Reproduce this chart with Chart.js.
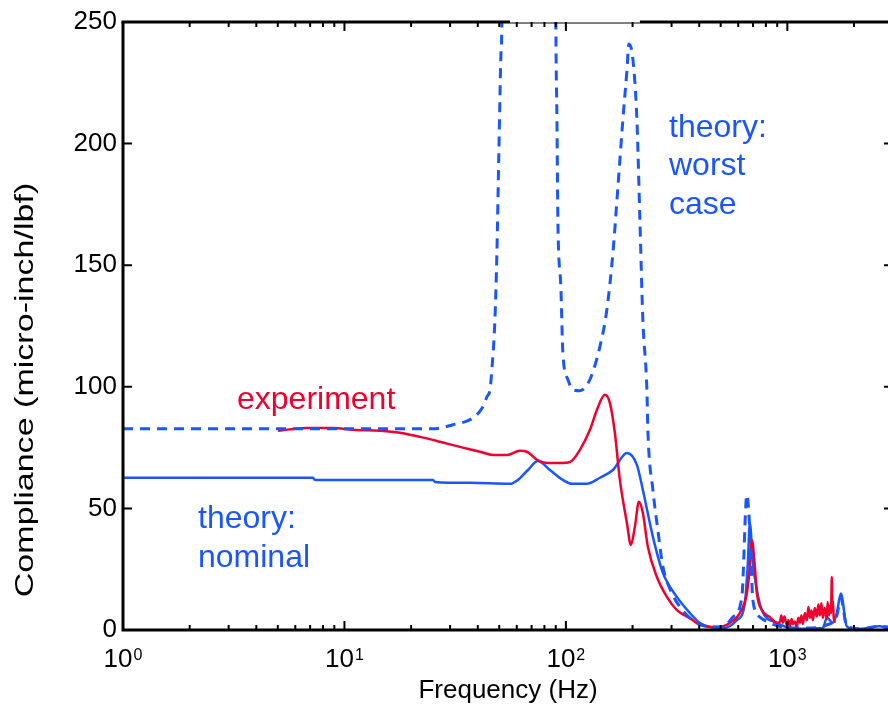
<!DOCTYPE html>
<html>
<head>
<meta charset="utf-8">
<script src="https://cdn.jsdelivr.net/npm/chart.js@4/dist/chart.umd.min.js"></script>
<style>
  html, body { margin: 0; padding: 0; background: #fff; overflow: hidden; }
  #wrap { width: 888px; height: 710px; overflow: hidden; }
</style>
</head>
<body>
<div id="wrap"><canvas id="chart" width="907" height="710"></canvas></div>
<script>
// frequency axis (Hz) and compliance values (micro-inch/lbf)
const worstFreq = [1, 25.1, 30.9, 38.0, 42.2, 44.0, 45.4, 46.3, 47.8, 48.8, 49.8, 50.9, 51.4, 68, 90.1, 91.1, 92.0, 94.9, 96.9, 102.1, 107.6, 115.7, 128.4, 142.4, 153.1, 163.0, 171.7, 180.9, 188.6, 192.5, 200.7, 209.2, 215.8, 222.6, 232.1, 234.5, 247.1, 260.3, 274.2, 294.8, 327.1, 362.8, 402.7, 446.8, 511.5, 567.5, 623.2, 656.5, 677.2, 698.7, 751.4, 833.7, 954.4, 1200, 1500, 1673, 1744, 1856, 2200, 2616, 3000];
const worstVal  = [82.7, 82.7, 84.4, 87.2, 91.8, 95.9, 98.8, 107, 127.6, 155, 196, 237, 251, 3000, 248, 210, 169, 141, 114, 103, 98.8, 98.4, 103, 116.5, 131.7, 155, 182, 210, 230, 241, 234.6, 210, 169, 127.6, 98.8, 82, 57.6, 41, 26, 17, 9.5, 5, 2.5, 1.2, 1.2, 5.3, 13.6, 55.6, 41, 12.3, 5.3, 2.9, 1.2, 0.8, 2, 6, 13, 1.5, 0.5, 1.5, 1];

const nominalFreq = [1, 7.21, 7.36, 25.1, 25.6, 36.9, 55.9, 60.7, 67.4, 74.7, 84.7, 96.9, 106.4, 124.4, 142.4, 163.0, 188.6, 209.2, 222.6, 247.1, 274.2, 317.0, 362.8, 402.7, 446.8, 511.5, 591.6, 642.9, 663.3, 677.2, 698.7, 728.4, 767.2, 896.6, 1104, 1446, 1508, 1605, 1673, 1744, 1856, 2060, 2616, 2843, 3000];
const nominalVal  = [62.6, 62.6, 61.7, 61.7, 60.9, 60.5, 60.1, 61.7, 65.8, 69.5, 65.8, 61.7, 60.1, 60.1, 62.6, 65.8, 72.8, 67.9, 57.6, 38.3, 23.5, 13.6, 7.0, 2.9, 1.2, 0.8, 4, 11, 27.6, 44, 27.6, 16.5, 8.2, 2.9, 0.5, 0.8, 5, 3, 7, 15, 1.5, 0.3, 1.5, 0.8, 1];

const expFreq = [5.01, 6.77, 8.87, 10.9, 14.5, 17.8, 21.9, 27.0, 33.2, 40.9, 46.8, 54.2, 62.0, 66.7, 74.0, 82.1, 94.0, 104.3, 115.7, 128.4, 138.0, 150.0, 157.9, 166.4, 175.3, 188.6, 196.6, 204.9, 213.6, 222.6, 234.5, 257.6, 285.8, 317.0, 362.8, 402.7, 480.6, 550.1, 610.4, 656.5, 677.2, 691.4, 713.4, 728.4, 767.2, 833.7, 896.6, 925, 940, 954, 970, 995, 1010, 1026, 1045, 1059, 1080, 1104, 1120, 1139, 1157, 1175, 1200, 1225, 1245, 1264, 1285, 1304, 1330, 1359, 1380, 1402, 1425, 1446, 1475, 1508, 1520, 1540, 1556, 1575, 1588, 1597, 1605, 1620, 1639];
const expVal  = [81.9, 83.1, 83.1, 82.3, 81.9, 81.1, 79.4, 77.4, 75.3, 73.3, 72.0, 72.0, 73.7, 73.3, 70.0, 68.7, 68.7, 69.1, 74.1, 82.3, 90.5, 96.7, 93.4, 81.1, 61.7, 44.0, 35.0, 42.4, 52.7, 48.1, 34.2, 21.8, 13.6, 8.2, 4.9, 2.1, 1.2, 2.9, 7.0, 15.2, 25.9, 37.0, 25.9, 15.2, 8.2, 5.3, 2.9, 3.3, 6, 3, 5.5, 2, 4, 1.5, 4.5, 2.5, 3.5, 1, 5, 3, 6, 2.5, 7, 4, 9.5, 5, 8, 4, 9, 5.5, 10.5, 6, 11, 5, 9, 4.5, 11.5, 6, 10, 7, 21.8, 8, 12, 5, 3];

const xTicks = [1, 2, 3, 4, 5, 6, 7, 8, 9, 10, 20, 30, 40, 50, 60, 70, 80, 90, 100, 200, 300, 400, 500, 600, 700, 800, 900, 1000, 2000, 3000];
const yTicks = [0, 50, 100, 150, 200, 250];

const BLUE = '#1a56ff';
const RED = '#f0002d';
const FONT = 'Liberation Sans, Arial, Helvetica, sans-serif';

const toPoints = (xs, ys) => xs.map((x, i) => ({ x: x, y: ys[i] }));
const isPow10 = (v) => Math.abs(Math.log10(v) - Math.round(Math.log10(v))) < 1e-9;

const framePlugin = {
  id: 'frame',
  afterDraw(chart) {
    const ctx = chart.ctx;
    const ca = chart.chartArea;
    const xs = chart.scales.x;
    const ys = chart.scales.y;
    ctx.save();
    ctx.strokeStyle = '#000';
    ctx.lineCap = 'butt';

    // axes box
    ctx.lineWidth = 3;
    ctx.beginPath();
    ctx.moveTo(ca.left, ca.top);
    ctx.lineTo(ca.left, ca.bottom);
    ctx.lineTo(ca.right, ca.bottom);
    ctx.lineTo(ca.right, ca.top);
    ctx.stroke();
    const gapA = xs.getPixelForValue(55.9);
    const gapB = xs.getPixelForValue(215.8);
    ctx.beginPath();
    ctx.moveTo(ca.left - 1.5, ca.top);
    ctx.lineTo(gapA, ca.top);
    ctx.moveTo(gapB, ca.top);
    ctx.lineTo(ca.right + 1.5, ca.top);
    ctx.stroke();
    ctx.lineWidth = 1;
    ctx.beginPath();
    ctx.moveTo(gapA, ca.top + 1);
    ctx.lineTo(gapB, ca.top + 1);
    ctx.stroke();

    // inward ticks
    ctx.lineWidth = 2;
    ctx.beginPath();
    xs.ticks.forEach((t) => {
      const px = xs.getPixelForValue(t.value);
      const len = isPow10(t.value) ? 9 : 5;
      ctx.moveTo(px, ca.bottom);
      ctx.lineTo(px, ca.bottom - len);
      ctx.moveTo(px, ca.top);
      ctx.lineTo(px, ca.top + len);
    });
    ys.ticks.forEach((t) => {
      const py = ys.getPixelForValue(t.value);
      ctx.moveTo(ca.left, py);
      ctx.lineTo(ca.left + 9, py);
      ctx.moveTo(ca.right, py);
      ctx.lineTo(ca.right - 9, py);
    });
    ctx.stroke();

    // exponents of the 10^n labels
    ctx.fillStyle = '#000';
    ctx.textBaseline = 'alphabetic';
    ctx.textAlign = 'left';
    ctx.font = '26px ' + FONT;
    const w10 = ctx.measureText('10').width;
    ctx.font = '16px ' + FONT;
    xs.ticks.forEach((t) => {
      if (!isPow10(t.value)) return;
      const px = xs.getPixelForValue(t.value);
      ctx.fillText(String(Math.round(Math.log10(t.value))), px - 5 + w10 / 2 + 1, ca.bottom + 30);
    });

    // y axis label (stretched along its length like the original)
    ctx.save();
    ctx.translate(26, 390);
    ctx.rotate(-Math.PI / 2);
    ctx.scale(1.31, 1);
    ctx.textAlign = 'center';
    ctx.textBaseline = 'middle';
    ctx.font = '26px ' + FONT;
    ctx.fillText('Compliance (micro-inch/lbf)', 0, 0);
    ctx.restore();

    // curve annotations
    ctx.font = '32px ' + FONT;
    ctx.fillStyle = RED;
    ctx.fillText('experiment', 237, 409);
    ctx.fillStyle = BLUE;
    ctx.fillText('theory:', 198, 528);
    ctx.fillText('nominal', 198, 567);
    ctx.fillText('theory:', 669, 137);
    ctx.fillText('worst', 669, 175);
    ctx.fillText('case', 669, 214);
    ctx.restore();
  }
};

new Chart(document.getElementById('chart'), {
  type: 'line',
  data: {
    datasets: [
      {
        label: 'theory: worst case',
        data: toPoints(worstFreq, worstVal),
        borderColor: BLUE,
        borderWidth: 3,
        borderDash: [10, 7],
        pointRadius: 0,
        cubicInterpolationMode: 'monotone'
      },
      {
        label: 'experiment',
        data: toPoints(expFreq, expVal),
        borderColor: RED,
        borderWidth: 2.5,
        pointRadius: 0,
        cubicInterpolationMode: 'monotone'
      },
      {
        label: 'theory: nominal',
        data: toPoints(nominalFreq, nominalVal),
        borderColor: BLUE,
        borderWidth: 2.5,
        pointRadius: 0,
        cubicInterpolationMode: 'monotone'
      }
    ]
  },
  options: {
    responsive: false,
    animation: false,
    layout: { padding: { top: 22, right: 0, left: 0, bottom: 0 } },
    plugins: { legend: { display: false }, tooltip: { enabled: false } },
    scales: {
      x: {
        type: 'logarithmic',
        min: 1,
        max: 3000,
        afterBuildTicks: (s) => { s.ticks = xTicks.map((v) => ({ value: v })); },
        afterFit: (s) => { s.height = 80; },
        grid: { display: false, drawTicks: false },
        border: { display: false },
        ticks: {
          autoSkip: false,
          maxRotation: 0,
          padding: 14,
          labelOffset: -5,
          color: '#000',
          font: { family: FONT, size: 26 },
          callback: (v) => (isPow10(v) ? '10' : '')
        },
        title: {
          display: true,
          text: 'Frequency (Hz)',
          color: '#000',
          font: { family: FONT, size: 26 },
          padding: { top: 0, bottom: 4 }
        }
      },
      y: {
        min: 0,
        max: 250,
        afterBuildTicks: (s) => { s.ticks = yTicks.map((v) => ({ value: v })); },
        afterFit: (s) => { s.width = 123; },
        grid: { display: false, drawTicks: false },
        border: { display: false },
        ticks: { padding: 6, color: '#000', font: { family: FONT, size: 26 } }
      }
    }
  },
  plugins: [framePlugin]
});
</script>
</body>
</html>
